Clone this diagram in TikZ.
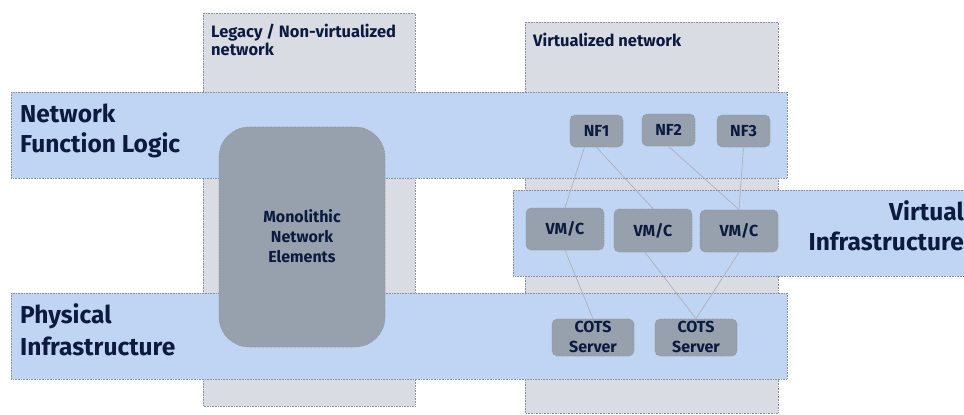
\documentclass[tikz,border=0pt]{standalone}
\usepackage{fontspec}
\setmainfont{Fira Sans}
\begin{document}
\begin{tikzpicture}[x=1pt,y=-1pt,
  colbox/.style={draw=borderc,densely dotted,fill=colc,line width=0.6pt},
  band/.style={draw=borderc,densely dotted,fill=bandc,line width=0.6pt},
  elem/.style={draw=borderc,densely dotted,fill=boxc,line width=0.6pt,rounded corners=5pt,inner sep=0pt},
  etext/.style={font=\bfseries\fontsize{16}{20}\selectfont,text=txtc,inner sep=0pt,align=center},
  link/.style={draw=linkc,line width=0.6pt},
  big/.style={font=\bfseries\fontsize{24.5}{30}\selectfont,text=txtc,inner sep=0pt,align=left},
  small/.style={font=\bfseries\fontsize{16.5}{18}\selectfont,text=txtc,inner sep=0pt,align=left}]
\definecolor{colc}{HTML}{D9DCE3}
\definecolor{bandc}{HTML}{C0D5F3}
\definecolor{boxc}{HTML}{97A1AD}
\definecolor{borderc}{HTML}{8A8F99}
\definecolor{txtc}{HTML}{0B1A3E}
\definecolor{linkc}{HTML}{A7ADB5}
\useasboundingbox[fill=white] (0,0) rectangle (964,415);
% columns
\draw[colbox] (203,13) rectangle (415,406);
\draw[colbox] (525,22) rectangle (778,413);
\node[small,anchor=base west] (legl) at (211,55) {Legacy / Non-virtualized\\network};
\node[small,anchor=base west] (virl) at (533,46) {Virtualized network};
% bands
\draw[band] (11,92) rectangle (787,178);
\draw[band] (11,293) rectangle (787,379);
\draw[band] (513,190) rectangle (968,276);
\node[big,anchor=base west] (nfl) at (20,152) {Network\\Function Logic};
\node[big,anchor=base west,font=\bfseries\fontsize{24.5}{32}\selectfont] (phy) at (20,355) {Physical\\Infrastructure};
\node[big,anchor=base east,align=right] (vin) at (964,250) {Virtual\\Infrastructure};
% monolithic
\node[elem,rounded corners=30pt,minimum width=166pt,minimum height=220pt] (mono) at (302,237) {};
\node[etext,anchor=base] (monot) at (302,262) {Monolithic\\Network\\Elements};
% boxes
\node[elem,etext,minimum width=53pt,minimum height=32pt] (nf1) at (596.5,131) {NF1};
\node[elem,etext,minimum width=53pt,minimum height=32pt] (nf2) at (668.5,130) {NF2};
\node[elem,etext,minimum width=53pt,minimum height=32pt] (nf3) at (743.5,131) {NF3};
\node[elem,etext,minimum width=78pt,minimum height=42pt] (vm1) at (565,229) {VM/C};
\node[elem,etext,minimum width=78pt,minimum height=43pt] (vm2) at (653,230.5) {VM/C};
\node[elem,etext,minimum width=78pt,minimum height=42pt] (vm3) at (739,231) {VM/C};
\node[elem,minimum width=82pt,minimum height=37pt] (cs1) at (593,337.5) {};
\node[elem,minimum width=82pt,minimum height=37pt] (cs2) at (696,337.5) {};
\node[etext,anchor=base] (cs1t) at (593,352) {COTS\\Server};
\node[etext,anchor=base] (cs2t) at (696,352) {COTS\\Server};
% links
\draw[link] ([xshift=-12pt]nf1.south) -- (vm1.north);
\draw[link] (nf1.south) -- (vm2.north);
\draw[link] (nf2.south) -- (vm3.north);
\draw[link] (nf3.south) -- (vm3.north);
\draw[link] (vm1.south) -- (cs1.north);
\draw[link] ([xshift=-8pt]vm2.south) -- (cs2.north);
\draw[link] (vm3.south) -- (cs2.north);
\end{tikzpicture}
\end{document}
